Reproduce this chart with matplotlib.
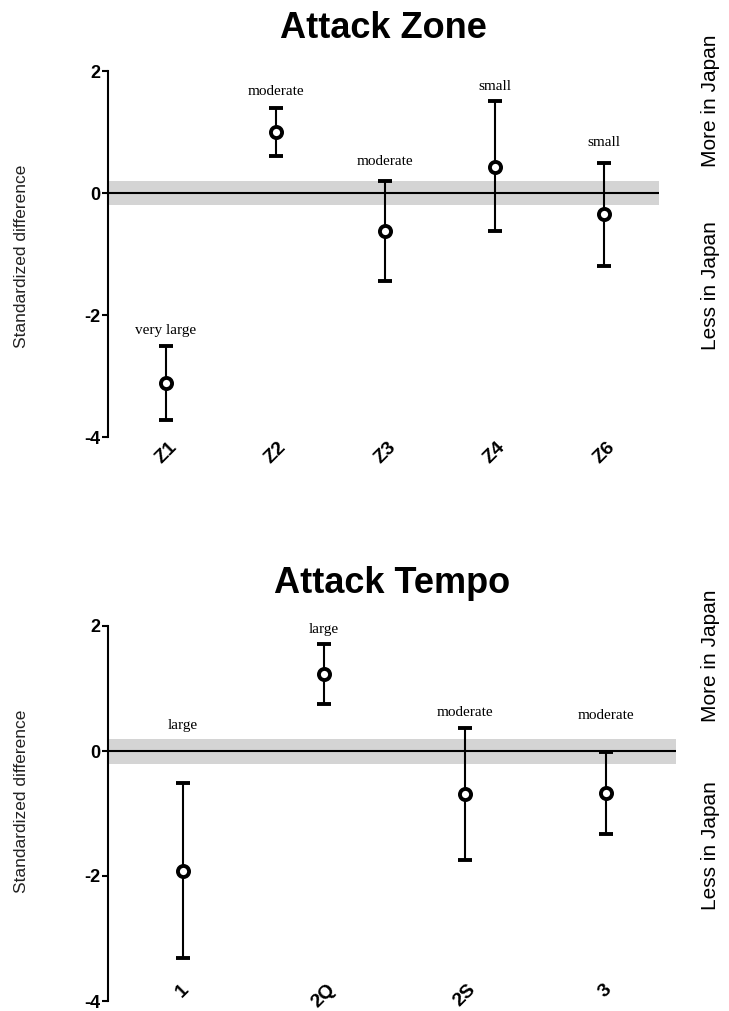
import matplotlib
matplotlib.use('Agg')
import matplotlib.pyplot as plt
import matplotlib.transforms as mtrans
import numpy as np

plt.rcParams['font.family'] = ['Liberation Sans', 'DejaVu Sans']

# attack zone
zones = ['Z1', 'Z2', 'Z3', 'Z4', 'Z6']
zone_mean = [-3.11, 1.00, -0.62, 0.43, -0.35]
zone_low = [-3.72, 0.61, -1.44, -0.62, -1.19]
zone_high = [-2.50, 1.39, 0.20, 1.51, 0.49]
zone_effect = ['very large', 'moderate', 'moderate', 'small', 'small']
zone_label_y = [-2.25, 1.67, 0.51, 1.75, 0.82]

# attack tempo
tempos = ['1', '2Q', '2S', '3']
tempo_mean = [-1.92, 1.23, -0.69, -0.67]
tempo_low = [-3.31, 0.76, -1.74, -1.32]
tempo_high = [-0.51, 1.71, 0.37, -0.01]
tempo_effect = ['large', 'large', 'moderate', 'moderate']
tempo_label_y = [0.41, 1.94, 0.62, 0.57]

yticks = [-4, -2, 0, 2]
trivial = 0.2


def draw_panel(ax, cats, mean, low, high, effect, label_y, title, xpad):
    x = np.arange(len(cats))
    mean = np.array(mean)
    err = [mean - np.array(low), np.array(high) - mean]
    ax.axhspan(-trivial, trivial, color='#d4d4d4', lw=0, zorder=0)
    ax.axhline(0, color='black', lw=1.5, zorder=1)
    ax.errorbar(x, mean, yerr=err, fmt='o', color='black', mfc='white',
                mec='black', ms=8, mew=2.8, elinewidth=1.5, capsize=4.7,
                capthick=1.5, zorder=3)
    for xi, lab, ly in zip(x, effect, label_y):
        ax.text(xi, ly, lab, ha='center', va='center', fontsize=11,
                family='Liberation Serif')
    ax.set_xlim(-0.53, len(cats) - 0.5)
    ax.set_ylim(-4, 2)
    ax.set_yticks(yticks)
    ax.set_yticklabels([str(t) for t in yticks], fontsize=13, fontweight='bold')
    ax.set_xticks(x)
    ax.set_xticklabels(cats, rotation=45, fontsize=14, fontweight='bold')
    ax.tick_params(axis='x', length=0, pad=xpad)
    ax.tick_params(axis='y', length=4.5, width=1.5, pad=1)
    for s in ['top', 'right', 'bottom']:
        ax.spines[s].set_visible(False)
    ax.spines['left'].set_linewidth(1.5)
    ax.set_title(title, fontsize=26, fontweight='bold', pad=24)
    tr = mtrans.blended_transform_factory(fig.transFigure, ax.transData)
    ax.text(710 / 729, 1.52, 'More in Japan', transform=tr, rotation=90,
            ha='center', va='center', fontsize=15)
    ax.text(710 / 729, -1.52, 'Less in Japan', transform=tr, rotation=90,
            ha='center', va='center', fontsize=15)


fig = plt.figure(figsize=(7.29, 10.11), dpi=100)
ax1 = fig.add_axes([108 / 729, 1 - 437 / 1011, (659 - 108) / 729, (437 - 71) / 1011])
ax2 = fig.add_axes([108 / 729, 1 - 1001 / 1011, (676 - 108) / 729, (1001 - 626) / 1011])

draw_panel(ax1, zones, zone_mean, zone_low, zone_high, zone_effect,
           zone_label_y, 'Attack Zone', 1.5)
draw_panel(ax2, tempos, tempo_mean, tempo_low, tempo_high, tempo_effect,
           tempo_label_y, 'Attack Tempo', -14.4)

fig.text(22 / 729, 1 - 256 / 1011, 'Standardized difference', rotation=90,
         ha='center', va='center', fontsize=12.5, color='#222222')
fig.text(22 / 729, 1 - 801 / 1011, 'Standardized difference', rotation=90,
         ha='center', va='center', fontsize=12.5, color='#222222')

fig.savefig('out.png', dpi=100)
